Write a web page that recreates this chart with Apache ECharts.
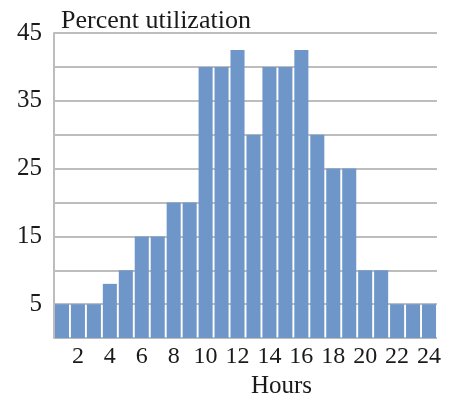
<!DOCTYPE html>
<html><head><meta charset="utf-8">
<script src="https://cdn.jsdelivr.net/npm/echarts@6/dist/echarts.min.js"></script>
<style>html,body{margin:0;padding:0;background:#fff}#c{width:458px;height:404px}</style>
</head><body><div id="c"></div>
<script>
const hours = ['1','2','3','4','5','6','7','8','9','10','11','12','13','14','15','16','17','18','19','20','21','22','23','24'];
const utilization = [5,5,5,8,10,15,15,20,20,40,40,42.5,30,40,40,42.5,30,25,25,10,10,5,5,5];
const yLabels = [5,15,25,35,45];
const font = '"Liberation Serif", "DejaVu Serif", serif';
const chart = echarts.init(document.getElementById('c'));
chart.setOption({
  animation: false,
  title: {text: 'Percent utilization', left: 56, top: 3,
    textStyle: {fontFamily: font, fontSize: 26, fontWeight: 'normal', color: '#1a1a1a'}},
  grid: {left: 54, right: 21, top: 33, bottom: 61},
  xAxis: {
    type: 'category', data: hours,
    name: 'Hours', nameLocation: 'middle', nameGap: 34,
    nameTextStyle: {fontFamily: font, fontSize: 25, color: '#1a1a1a', padding: [0, 0, 0, 72]},
    axisLine: {show: false}, axisTick: {show: false},
    axisLabel: {interval: 0, fontFamily: font, fontSize: 24, color: '#1a1a1a', margin: 7,
      formatter: v => (Number(v) % 2 === 0 ? v : '')}
  },
  yAxis: {
    type: 'value', min: 0, max: 45, interval: 5,
    axisLine: {show: true, lineStyle: {color: '#bdbdbd', width: 2}},
    axisTick: {show: false},
    splitLine: {lineStyle: {color: '#bdbdbd', width: 2}},
    axisLabel: {fontFamily: font, fontSize: 25, color: '#1a1a1a', margin: 12,
      formatter: v => (yLabels.indexOf(v) >= 0 ? String(v) : '')}
  },
  series: [{
    type: 'bar', data: utilization, barCategoryGap: '12%',
    itemStyle: {color: '#6f96c9'}
  }]
});
</script></body></html>
